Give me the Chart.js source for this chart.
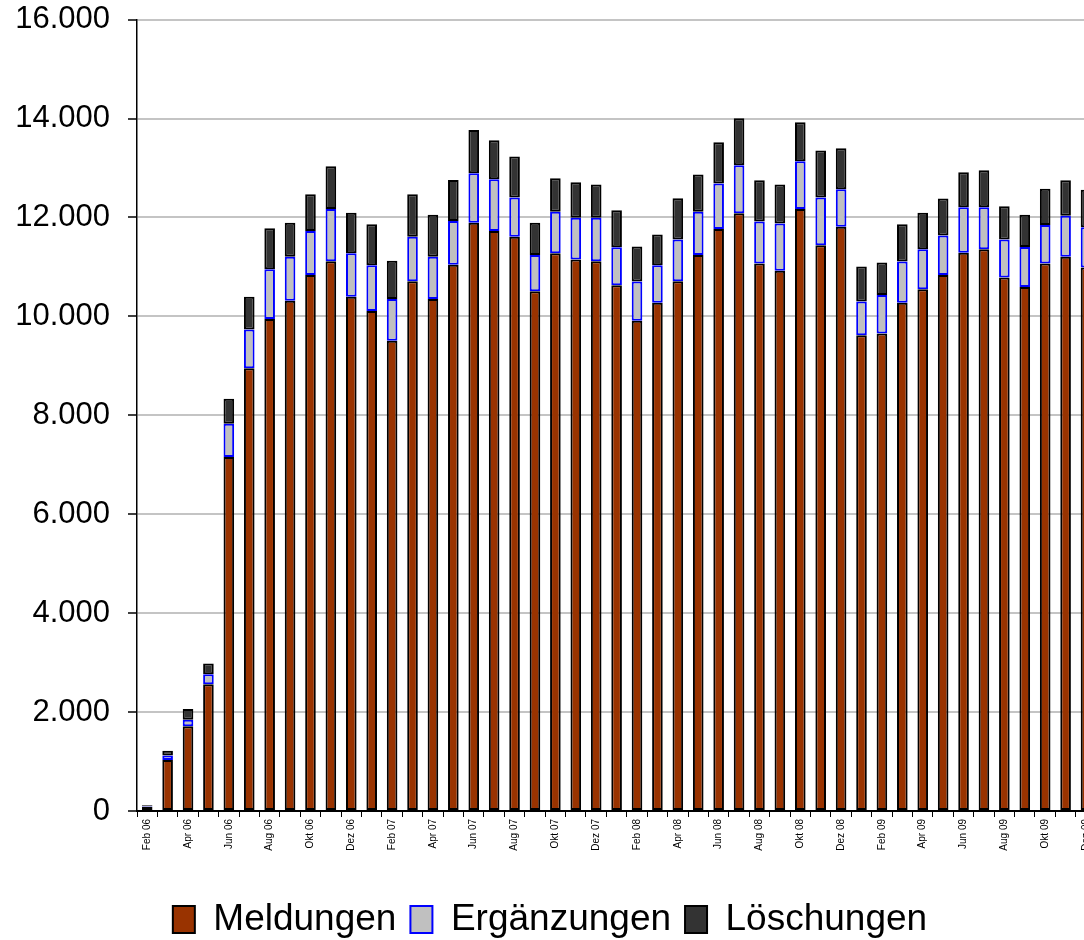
<!DOCTYPE html>
<html>
<head>
<meta charset="utf-8">
<script src="https://cdn.jsdelivr.net/npm/chart.js@4"></script>
<style>
  html, body { margin: 0; padding: 0; background: #fff; overflow: hidden; }
  #wrap { position: absolute; left: 0; top: -17px; width: 1100px; height: 966px; }
</style>
</head>
<body>
<div id="wrap"><canvas id="chart" width="1100" height="966"></canvas></div>
<script>
// Monate Feb 06 .. Dez 09
var months = [
  'Feb 06','Mrz 06','Apr 06','Mai 06','Jun 06','Jul 06','Aug 06','Sep 06','Okt 06','Nov 06','Dez 06',
  'Jan 07','Feb 07','Mrz 07','Apr 07','Mai 07','Jun 07','Jul 07','Aug 07','Sep 07','Okt 07','Nov 07','Dez 07',
  'Jan 08','Feb 08','Mrz 08','Apr 08','Mai 08','Jun 08','Jul 08','Aug 08','Sep 08','Okt 08','Nov 08','Dez 08',
  'Jan 09','Feb 09','Mrz 09','Apr 09','Mai 09','Jun 09','Jul 09','Aug 09','Sep 09','Okt 09','Nov 09','Dez 09'
];
var meldungen = [
  85, 1030, 1715, 2565, 7155, 8950, 9945, 10315, 10835, 11115, 10395,
  10110, 9505, 10710, 10350, 11045, 11895, 11725, 11610, 10510, 11275, 11150, 11115,
  10630, 9910, 10275, 10710, 11240, 11765, 12085, 11070, 10920, 12170, 11440, 11810,
  9620, 9655, 10275, 10550, 10835, 11285, 11355, 10785, 10595, 11070, 11205, 10990
];
var ergaenzungen = [
  10, 90, 130, 200, 675, 785, 1010, 890, 890, 1055, 880,
  925, 845, 900, 855, 885, 1000, 1045, 795, 730, 840, 845, 880,
  765, 795, 760, 845, 875, 920, 970, 850, 960, 965, 965, 760,
  680, 775, 835, 805, 800, 920, 850, 770, 810, 775, 830, 810
];
var loeschungen = [
  20, 100, 215, 215, 505, 660, 825, 690, 745, 865, 820,
  825, 775, 860, 850, 825, 875, 790, 825, 655, 675, 715, 670,
  750, 710, 620, 835, 755, 835, 950, 830, 785, 790, 950, 830,
  710, 660, 750, 740, 750, 710, 750, 670, 650, 735, 715, 760
];
var yTicks = [0, 2000, 4000, 6000, 8000, 10000, 12000, 14000, 16000];

var fontFamily = '"Liberation Sans", Arial, sans-serif';

function barSet(label, data, fill, border) {
  return {
    label: label,
    data: data,
    backgroundColor: fill,
    borderColor: border,
    borderWidth: 2,
    borderSkipped: false,
    barPercentage: 0.52,
    categoryPercentage: 1.0
  };
}

var ctx = document.getElementById('chart').getContext('2d');
var myChart = new Chart(ctx, {
  type: 'bar',
  data: {
    labels: months,
    datasets: [
      barSet('Meldungen', meldungen, '#993300', '#000000'),
      barSet('Ergänzungen', ergaenzungen, '#c0c0c0', '#0000ff'),
      barSet('Löschungen', loeschungen, '#333333', '#000000')
    ]
  },
  options: {
    responsive: false,
    animation: false,
    locale: 'de-DE',
    layout: { padding: { left: 0, right: 0, top: 2, bottom: 1 } },
    plugins: {
      tooltip: { enabled: false },
      legend: {
        position: 'bottom',
        labels: {
          color: '#000',
          font: { family: fontFamily, size: 37 },
          boxWidth: 22,
          boxHeight: 27,
          padding: 14
        }
      }
    },
    scales: {
      x: {
        stacked: true,
        afterFit: function(scale) { scale.height = 76; },
        grid: { offset: true, drawOnChartArea: false, color: '#000', tickLength: 6, lineWidth: 1 },
        border: { color: '#000', width: 2 },
        ticks: {
          autoSkip: false,
          maxRotation: 90,
          minRotation: 90,
          padding: 2,
          color: '#000',
          font: { family: fontFamily, size: 10 },
          callback: function(value, index) {
            return index % 2 === 0 ? months[index] : '';
          }
        }
      },
      y: {
        stacked: true,
        min: yTicks[0],
        max: yTicks[yTicks.length - 1],
        afterBuildTicks: function(scale) {
          scale.ticks = yTicks.map(function(v) { return { value: v }; });
        },
        afterFit: function(scale) { scale.width = 137; },
        grid: { color: '#c4c4c4', lineWidth: 2, tickColor: '#000', tickLength: 9, tickWidth: 1.5 },
        border: { color: '#000', width: 1.5 },
        ticks: {
          padding: 18,
          color: '#000',
          font: { family: fontFamily, size: 31 },
          callback: function(value) { return value.toLocaleString('de-DE'); }
        }
      }
    }
  }
});
</script>
</body>
</html>
